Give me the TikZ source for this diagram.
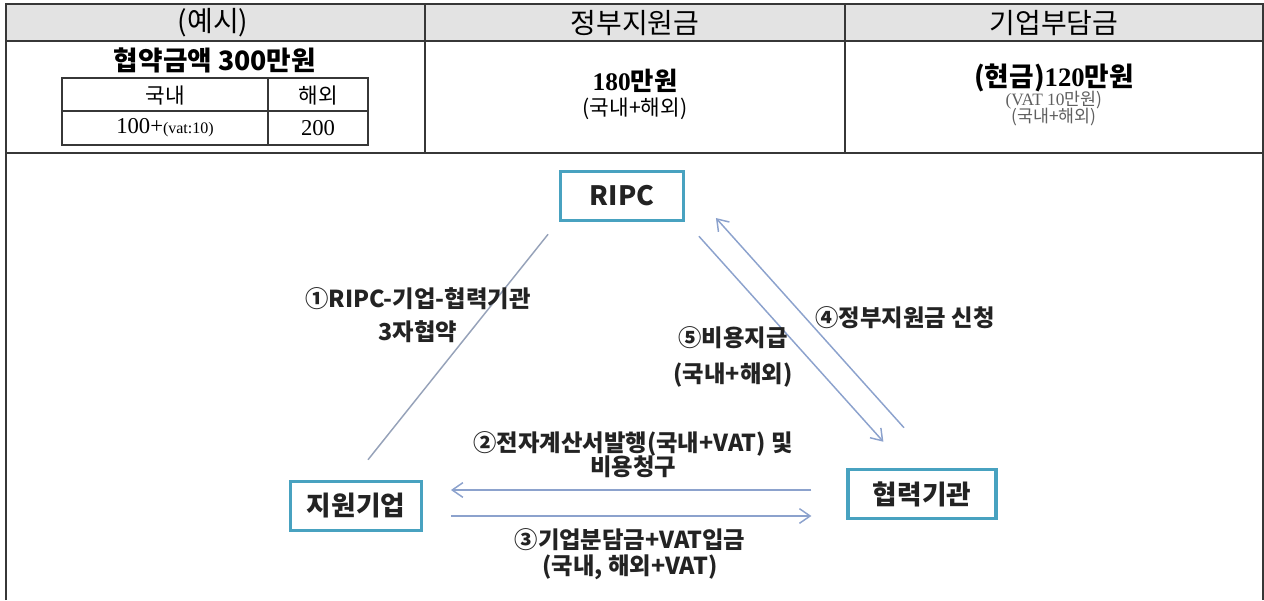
\documentclass[tikz,border=0pt]{standalone}
\usepackage{fontspec}
\setmainfont{Noto Sans CJK KR}
\newfontfamily\latserif{Liberation Serif}
\usetikzlibrary{positioning,arrows.meta}

\definecolor{boxteal}{RGB}{72,162,192}
\definecolor{flowblue}{RGB}{140,162,205}
\definecolor{plaingrey}{RGB}{150,162,185}
\definecolor{headgrey}{RGB}{227,227,227}
\definecolor{rulegrey}{RGB}{55,55,55}
\definecolor{labelgrey}{RGB}{35,35,35}
\definecolor{notegrey}{RGB}{95,95,95}

\tikzset{
	rule/.style={draw=rulegrey, line width=1.5pt},
	headtxt/.style={inner sep=0pt, font=\fontsize{21}{21}\selectfont},
	celltxt/.style={inner sep=0pt, font=\fontsize{16}{16}\selectfont},
	party/.style={draw=boxteal, line width=2.4pt, fill=white, minimum height=37pt, font=\fontsize{20}{20}\selectfont\bfseries, text=labelgrey},
	flow/.style={draw=flowblue, line width=1.1pt, -{Straight Barb[length=8pt,width=11pt]}},
	lbl/.style={align=center, text=labelgrey, font=\fontsize{17.5}{19}\selectfont\bfseries},
}

\begin{document}
\begin{tikzpicture}[x=0.75pt,y=-0.75pt]
	\useasboundingbox (0,0) rectangle (1264,600);
	% table
	\fill[headgrey] (6,4) rectangle (1263,41);
	\draw[rule] (6,600) -- (6,4) -- (1263,4) -- (1263,600);
	\draw[rule] (6,41) -- (1263,41);
	\draw[rule] (6,153) -- (1263,153);
	\draw[rule] (425,4) -- (425,153);
	\draw[rule] (845,4) -- (845,153);
	\draw[rule] (62,78) rectangle (368,145);
	\draw[rule] (62,111) -- (368,111);
	\draw[rule] (268,78) -- (268,145);
	
	\node[headtxt] (hexample) at (213,23) {(예시)};
	\node[headtxt] (hgov) at (635,23) {정부지원금};
	\node[headtxt] (hfirm) at (1054,23) {기업부담금};
	
	\node[inner sep=0pt, font=\fontsize{20}{20}\selectfont\bfseries] (total) at (215,60) {협약금액 300만원};
	\node[celltxt] (dom) at (165,96) {국내};
	\node[celltxt] (ovs) at (318,96) {해외};
	\node[inner sep=0pt, font=\fontsize{17}{17}\latserif] (domval) at (165,128) {100+{\fontsize{12}{12}\selectfont(vat:10)}};
	\node[inner sep=0pt, font=\fontsize{17}{17}\latserif] (ovsval) at (318,128) {200};
	
	\node[inner sep=0pt, font=\fontsize{19}{19}\selectfont\bfseries] (govamt) at (635,81) {{\latserif 180}만원};
	\node[celltxt] (govnote) at (635,109) {(국내+해외)};
	
	\node[inner sep=0pt, font=\fontsize{20}{20}\selectfont\bfseries] (cash) at (1054,78) {(현금){\latserif 120}만원};
	\node[inner sep=0pt, font=\fontsize{13}{13}\selectfont, text=notegrey] (vat) at (1054,100) {{\latserif (VAT 10}만원)};
	\node[inner sep=0pt, font=\fontsize{13}{13}\selectfont, text=notegrey] (cashnote) at (1054,117) {(국내+해외)};
	
	% parties
	\node[party, minimum width=92pt] (ripc) at (622,196) {RIPC};
	\node[party, minimum width=98pt, on grid, below left=232.5pt and 199.5pt of ripc] (firm) {지원기업};
	\node[party, minimum width=111pt, on grid, below right=223.5pt and 225pt of ripc] (partner) {협력기관};
	
	% flows
	\draw[draw=plaingrey, line width=1.1pt] ([shift={(-11,12)}]ripc.south west) -- ([shift={(12,-20)}]firm.north);
	\draw[flow] ([shift={(14,14)}]ripc.south east) -- ([shift={(37,-26)}]partner.north west);
	\draw[flow] ([shift={(-18,-40)}]partner.north) -- ([shift={(31,22)}]ripc.east);
	\draw[flow] ([shift={(-35,-4)}]partner.west) -- ([shift={(28,-16)}]firm.east);
	\draw[flow] ([shift={(28,10)}]firm.east) -- ([shift={(-35,22)}]partner.west);
	
	% labels
	\node[lbl] (lcontract) at (418,315) {①RIPC-기업-협력기관\\[6pt]3자협약};
	\node[lbl] (lpay) at (733,357) {⑤비용지급\\[8pt](국내+해외)};
	\node[lbl] (lapply) at (905,318) {④정부지원금 신청};
	\node[lbl] (linvoice) at (633,455) {②전자계산서발행(국내+VAT) 및\\[-1pt]비용청구};
	\node[lbl] (ldeposit) at (630,554) {③기업분담금+VAT입금\\[0pt](국내, 해외+VAT)};
\end{tikzpicture}
\end{document}
